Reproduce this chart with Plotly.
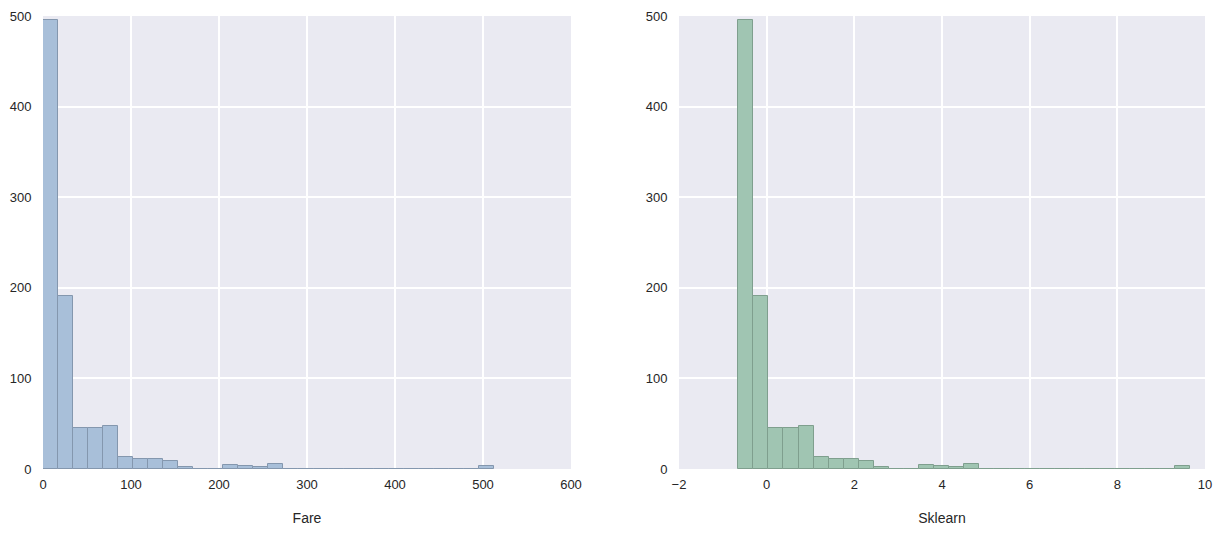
"""Histogramas de Fare original y estandarizada (StandardScaler)."""

import numpy as np
import plotly.graph_objects as go

# conteos por bin (30 bins entre min y max de Fare)
FARE_COUNTS = [496, 191, 45, 45, 48, 13, 11, 11, 9, 2,
               0, 0, 4, 3, 2, 5, 0, 0, 0, 0,
               0, 0, 0, 0, 0, 0, 0, 0, 0, 3]
FARE_MIN = 0.0
FARE_MAX = 512.3292
FARE_MEAN = 32.2042
FARE_STD = 49.6655
N_BINS = 30

Y_TICKS = [0, 100, 200, 300, 400, 500]
X_TICKS_FARE = [0, 100, 200, 300, 400, 500, 600]
X_TICKS_SK = [-2, 0, 2, 4, 6, 8, 10]
X_TEXT_SK = ["\u22122", "0", "2", "4", "6", "8", "10"]

BG = "#EAEAF2"
TXT = "#262626"

edges = np.linspace(FARE_MIN, FARE_MAX, N_BINS + 1)
centers = (edges[:-1] + edges[1:]) / 2
width = edges[1] - edges[0]

sk_edges = (edges - FARE_MEAN) / FARE_STD
sk_centers = (sk_edges[:-1] + sk_edges[1:]) / 2
sk_width = sk_edges[1] - sk_edges[0]

# la página añade 8px de margen al cuerpo
OFF = 8
W, H = 1223 - 2 * OFF, 536 - 2 * OFF
L, R, T = 43 - OFF, W - (1205 - OFF), 16 - OFF
B = H - (469 - OFF)
PW = W - L - R

fig = go.Figure()
fig.add_trace(go.Bar(
    x=centers, y=FARE_COUNTS, width=width,
    marker=dict(color="#A8BFD9", line=dict(color="#8497AE", width=1)),
    xaxis="x", yaxis="y", showlegend=False,
))
fig.add_trace(go.Bar(
    x=sk_centers, y=FARE_COUNTS, width=sk_width,
    marker=dict(color="#A0C5B2", line=dict(color="#7F9F8E", width=1)),
    xaxis="x2", yaxis="y2", showlegend=False,
))

axis_font = dict(family="Liberation Sans, Arial, sans-serif", size=13, color=TXT)
common_x = dict(showgrid=True, gridcolor="white", gridwidth=1.5, zeroline=False,
                showline=False, ticks="outside", ticklen=3,
                tickcolor="rgba(0,0,0,0)", tickfont=axis_font, automargin=False)
common_y = dict(showgrid=True, gridcolor="white", gridwidth=1.5, zeroline=False,
                showline=False, ticks="outside", ticklen=8,
                tickcolor="rgba(0,0,0,0)", tickfont=axis_font, range=[0, 500],
                tickvals=Y_TICKS, automargin=False)

fig.update_layout(
    width=W, height=H,
    margin=dict(l=L, r=R, t=T, b=B),
    paper_bgcolor="white",
    plot_bgcolor=BG,
    bargap=0,
    xaxis=dict(common_x, domain=[0, (571 - 43) / PW], range=[0, 600],
               tickvals=X_TICKS_FARE, anchor="y",
               title=dict(text="Fare", font=dict(axis_font, size=14), standoff=22)),
    yaxis=dict(common_y, domain=[0, 1], anchor="x"),
    xaxis2=dict(common_x, domain=[(679 - 43) / PW, 1], range=[-2, 10],
                tickvals=X_TICKS_SK, ticktext=X_TEXT_SK, anchor="y2",
                title=dict(text="Sklearn", font=dict(axis_font, size=14), standoff=22)),
    yaxis2=dict(common_y, domain=[0, 1], anchor="x2"),
)

fig.write_html("out.html")
